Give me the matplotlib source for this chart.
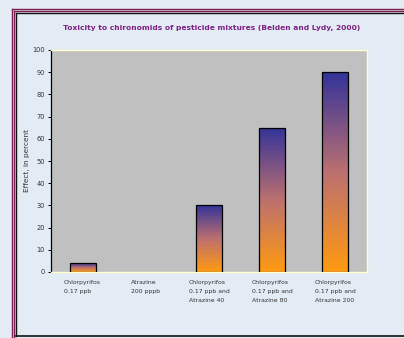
import numpy as np
import matplotlib.pyplot as plt
from matplotlib.colors import LinearSegmentedColormap
from matplotlib.lines import Line2D

# Effect (%) on chironomids for each treatment
labels = ['Chlorpyrifos\n0.17 ppb',
          'Atrazine\n200 pppb',
          'Chlorpyrifos\n0.17 ppb and\nAtrazine 40',
          'Chlorpyrifos\n0.17 ppb and\nAtrazine 80',
          'Chlorpyrifos\n0.17 ppb and\nAtrazine 200']
effect = [4, 0, 30, 65, 90]
yticks = list(range(0, 101, 10))

W, H = 404, 338
fig = plt.figure(figsize=(W / 100, H / 100), dpi=100)
fig.patch.set_facecolor('#e3ebf5')

# slide frame: double maroon rule with a black inner rule
def fline(x0, y0, x1, y1, color, lw):
    fig.add_artist(Line2D([x0 / W, x1 / W], [1 - y0 / H, 1 - y1 / H],
                          transform=fig.transFigure, color=color, lw=lw))

maroon = '#7a1f4f'
fline(11.5, 8.5, 11.5, H, maroon, 1.0)
fline(13.5, 10.5, 13.5, H, maroon, 1.0)
fline(11.5, 8.5, W, 8.5, maroon, 1.0)
fline(13.5, 10.5, W, 10.5, maroon, 1.0)
fline(15.5, 12.5, 15.5, 335.5, '#111111', 1.0)
fline(15.5, 12.5, W, 12.5, '#111111', 1.0)
fline(15.5, 335.5, W, 335.5, '#111111', 1.2)

ax = fig.add_axes([51 / W, 1 - 272 / H, (367 - 51) / W, (272 - 50) / H])
ax.set_facecolor('#c0c0c0')
for side in ['top', 'right', 'bottom']:
    ax.spines[side].set_color('#ffffcc')
    ax.spines[side].set_linewidth(1.0)
ax.spines['left'].set_color('black')
ax.spines['left'].set_linewidth(0.9)

x = np.arange(len(effect))

cmap = LinearSegmentedColormap.from_list(
    'fade', [(0.0, '#ff9a10'), (0.5, '#bc7070'), (1.0, '#333399')])
grad = np.linspace(0, 1, 256).reshape(-1, 1)

bw = 0.41
bars = ax.bar(x, effect, width=bw, color='none', edgecolor='black',
              linewidth=0.9, zorder=3)
for b, v in zip(bars, effect):
    if v <= 0:
        b.set_linewidth(0)
        continue
    x0 = b.get_x()
    im = ax.imshow(grad, cmap=cmap, origin='lower', aspect='auto',
                   extent=(x0, x0 + bw, 0, v), zorder=2,
                   interpolation='bilinear')
    im.set_clip_path(b)
ax.set_xlim(-0.5, len(effect) - 0.5)
ax.set_ylim(0, 100)

ax.set_yticks(yticks)
ax.tick_params(axis='y', labelsize=4.8, length=2.5, width=0.7,
               labelcolor='#333333', pad=2)
ax.set_xticks([])

for xi, lab in zip(x, labels):
    ax.text(xi, -3.5, lab, ha='center', va='top', multialignment='left',
            fontsize=4.4, color='#333333', linespacing=2.0)

ax.set_ylabel('Effect, in percent', fontsize=5.3, color='#333333', labelpad=1.5)

fig.text(212 / W, 1 - 28 / H,
         'Toxicity to chironomids of pesticide mixtures (Belden and Lydy, 2000)',
         ha='center', va='center', fontsize=5.4, fontweight='bold',
         color='#7d1f82')

fig.savefig('out.png', dpi=100, facecolor=fig.get_facecolor())
